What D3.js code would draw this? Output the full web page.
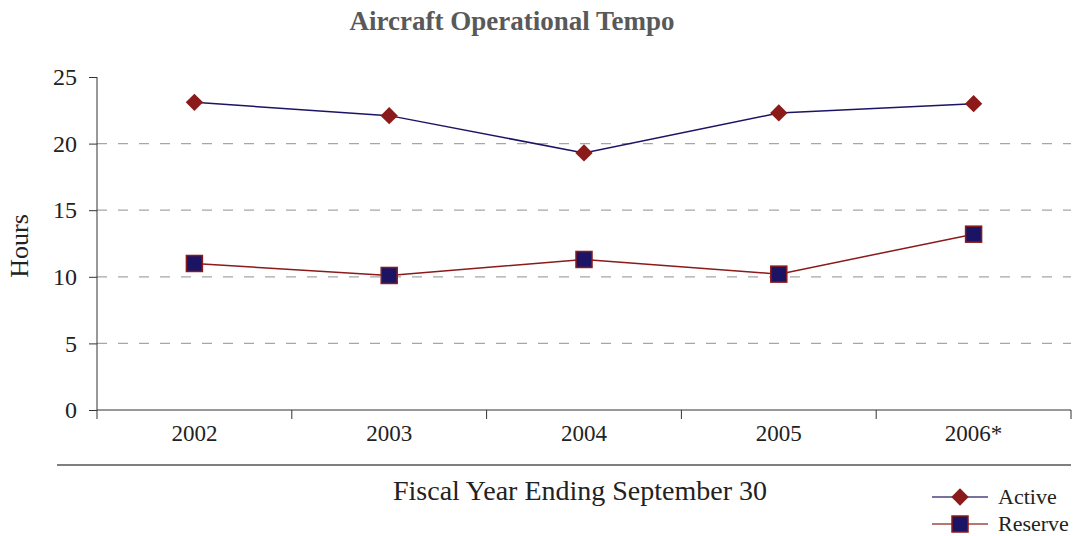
<!DOCTYPE html>
<html>
<head>
<meta charset="utf-8">
<script src="https://cdn.jsdelivr.net/npm/d3@7"></script>
<style>
  body { margin: 0; background: #fff; }
  svg text { font-family: "Liberation Serif", "DejaVu Serif", serif; }
</style>
</head>
<body>
<div id="chart"></div>
<script>
// chart data
const years = ["2002", "2003", "2004", "2005", "2006*"];
const active = [23.1, 22.1, 19.3, 22.3, 23.0];
const reserve = [11.0, 10.1, 11.3, 10.2, 13.2];
const yTicks = [0, 5, 10, 15, 20, 25];

const W = 1078, H = 536;
const pLeft = 97, pRight = 1071, pTop = 77, pBottom = 410;
const navy = "#1b1464", red = "#8b1a1a";

const svg = d3.select("#chart").append("svg")
  .attr("width", W).attr("height", H);

const x = d3.scaleBand().domain(years).range([pLeft, pRight]);
const y = d3.scaleLinear().domain([0, 25]).range([pBottom, pTop]);

svg.append("text")
  .attr("x", 512).attr("y", 30)
  .attr("text-anchor", "middle")
  .attr("font-size", 27).attr("font-weight", "bold")
  .attr("fill", "#595959")
  .text("Aircraft Operational Tempo");

// dashed gridlines
svg.append("g").selectAll("line")
  .data(yTicks.filter(d => d > 0 && d < 25))
  .enter().append("line")
  .attr("x1", pLeft).attr("x2", pRight)
  .attr("y1", d => y(d)).attr("y2", d => y(d))
  .attr("stroke", "#a6a6a6").attr("stroke-width", 1.3)
  .attr("stroke-dasharray", "10,11");

// y axis
const yAxis = svg.append("g")
  .attr("transform", "translate(" + pLeft + ",0)")
  .call(d3.axisLeft(y).tickValues(yTicks).tickSize(8).tickPadding(12));
yAxis.select(".domain").attr("stroke", "#333").attr("d", "M0," + pTop + "V" + pBottom);
yAxis.selectAll("line").attr("stroke", "#333");
yAxis.selectAll("text").attr("font-size", 24).attr("fill", "#222")
  .style("font-family", "Liberation Serif, serif");

// x axis
const xAxis = svg.append("g")
  .attr("transform", "translate(0," + pBottom + ")")
  .call(d3.axisBottom(x).tickSize(0).tickPadding(15));
xAxis.select(".domain").attr("stroke", "#333").attr("d", "M" + pLeft + ",0H" + pRight);
xAxis.selectAll("text").attr("font-size", 23).attr("fill", "#222")
  .style("font-family", "Liberation Serif, serif");
// band boundary ticks
const bounds = years.map(d => x(d)).concat([pRight]);
svg.append("g").selectAll("line").data(bounds).enter().append("line")
  .attr("x1", d => d).attr("x2", d => d)
  .attr("y1", pBottom).attr("y2", pBottom + 9)
  .attr("stroke", "#333");

svg.append("text")
  .attr("transform", "translate(28," + 246 + ") rotate(-90)")
  .attr("text-anchor", "middle")
  .attr("font-size", 26).attr("fill", "#222")
  .text("Hours");

svg.append("line")
  .attr("x1", 57).attr("x2", pRight).attr("y1", 465).attr("y2", 465)
  .attr("stroke", "#555").attr("stroke-width", 1.3);

svg.append("text")
  .attr("x", 580).attr("y", 500)
  .attr("text-anchor", "middle")
  .attr("font-size", 28).attr("fill", "#222")
  .text("Fiscal Year Ending September 30");

const cx = d => x(d) + x.bandwidth() / 2;
const line = d3.line().x((d, i) => cx(years[i])).y(d => y(d));

svg.append("path").datum(active)
  .attr("d", line).attr("fill", "none")
  .attr("stroke", navy).attr("stroke-width", 1.5);
svg.append("path").datum(reserve)
  .attr("d", line).attr("fill", "none")
  .attr("stroke", red).attr("stroke-width", 1.5);

const diamond = d3.symbol().type(d3.symbolSquare).size(150);
svg.append("g").selectAll("path").data(active).enter().append("path")
  .attr("d", diamond)
  .attr("transform", (d, i) => "translate(" + cx(years[i]) + "," + y(d) + ") rotate(45)")
  .attr("fill", red);

svg.append("g").selectAll("rect").data(reserve).enter().append("rect")
  .attr("x", (d, i) => cx(years[i]) - 8).attr("y", d => y(d) - 8)
  .attr("width", 16).attr("height", 16)
  .attr("fill", navy).attr("stroke", red).attr("stroke-width", 1.5);

// legend
const legend = [
  { name: "Active", lc: navy, y: 497, kind: "d" },
  { name: "Reserve", lc: red, y: 524, kind: "s" }
];
const lg = svg.append("g");
legend.forEach(l => {
  lg.append("line").attr("x1", 932).attr("x2", 988)
    .attr("y1", l.y).attr("y2", l.y)
    .attr("stroke", l.lc).attr("stroke-width", 1.5).attr("opacity", 0.8);
  if (l.kind === "d") {
    lg.append("path").attr("d", diamond)
      .attr("transform", "translate(960," + l.y + ") rotate(45)")
      .attr("fill", red);
  } else {
    lg.append("rect").attr("x", 952).attr("y", l.y - 8)
      .attr("width", 16).attr("height", 16)
      .attr("fill", navy).attr("stroke", red).attr("stroke-width", 1.5);
  }
  lg.append("text").attr("x", 998).attr("y", l.y + 7)
    .attr("font-size", 22).attr("fill", "#222").text(l.name);
});
</script>
</body>
</html>
